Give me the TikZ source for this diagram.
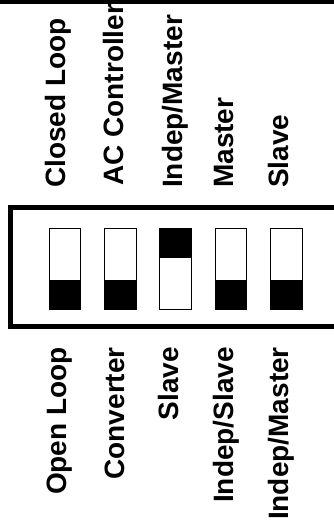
\documentclass[tikz,border=0pt]{standalone}
\usepackage{fontspec}
\setsansfont{Liberation Sans}
\usetikzlibrary{shapes,positioning,calc}

\begin{document}
\begin{tikzpicture}
  [x=1pt,y=1pt,
   switchN/.style={draw,rectangle,minimum width=31.5pt,minimum height=81pt,inner sep=0pt,line width=0.8pt},
   labelN/.style={rotate=90,inner sep=0pt,font=\fontsize{28}{30}\selectfont\sffamily\bfseries},
   frameN/.style={line width=5pt,line join=miter},
   node distance=23pt]

  \useasboundingbox (0,0) rectangle (334,520);
  \clip (0,0) rectangle (334,520);

  % bar along the top
  \fill (0,515.5) rectangle (334,520);

  % switch housing
  \draw[frameN] (345,312.5) -- (10.5,312.5) -- (10.5,193.5) -- (345,193.5);

  % switches
  \node[switchN] (s1) at (65,251.5) {};
  \node[switchN] (s2) [right=of s1] {};
  \node[switchN] (s3) [right=of s2] {};
  \node[switchN] (s4) [right=of s3] {};
  \node[switchN] (s5) [right=of s4] {};

  \fill (s1.south west) rectangle ($(s1.south east)+(0,29.5)$);
  \fill (s2.south west) rectangle ($(s2.south east)+(0,29.5)$);
  \fill (s3.north west) rectangle ($(s3.north east)+(0,-30)$);
  \fill (s4.south west) rectangle ($(s4.south east)+(0,29.5)$);
  \fill (s5.south west) rectangle ($(s5.south east)+(0,29.5)$);

  % labels above
  \node[labelN,anchor=base west] (closed)  at (65,332)  {Closed Loop};
  \node[labelN,anchor=base west] (acctrl)  at (123,334) {AC Controller};
  \node[labelN,anchor=base west] (indepmU) at (182,332) {Indep/Master};
  \node[labelN,anchor=base west] (master)  at (233,332) {Master};
  \node[labelN,anchor=base west] (slaveU)  at (288,332) {Slave};

  % labels below
  \node[labelN,anchor=base east] (open)    at (67,173)  {Open Loop};
  \node[labelN,anchor=base east] (conv)    at (124,173) {Converter};
  \node[labelN,anchor=base east] (slaveD)  at (178,173) {Slave};
  \node[labelN,anchor=base east] (indepsD) at (233,173) {Indep/Slave};
  \node[labelN,anchor=base east] (indepmD) at (288,173) {Indep/Master};

\end{tikzpicture}
\end{document}
